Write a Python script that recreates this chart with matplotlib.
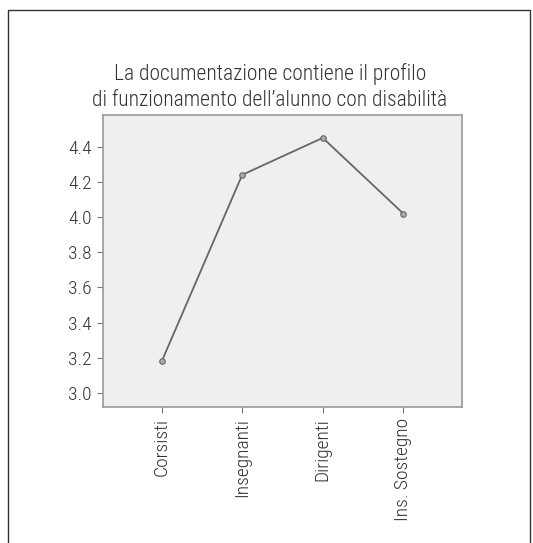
"""Line chart: documentation contains the functioning profile of the pupil."""

import matplotlib

matplotlib.use("Agg")

import matplotlib.pyplot as plt
from matplotlib.patches import Rectangle

groups = ["Corsisti", "Insegnanti", "Dirigenti", "Ins. Sostegno"]
means = [3.18, 4.24, 4.45, 4.02]
y_ticks = [3.0, 3.2, 3.4, 3.6, 3.8, 4.0, 4.2, 4.4]
title = "La documentazione contiene il profilo\ndi funzionamento dell\u2019alunno con disabilità"

plt.rcParams["font.family"] = ["Roboto Condensed", "DejaVu Sans"]
plt.rcParams["font.weight"] = "light"

W, H = 533, 543
fig = plt.figure(figsize=(W / 100, H / 100), dpi=100)

# outer frame
fig.patches.append(Rectangle((8 / W, -0.01), (522 / W), (H - 10) / H + 0.01,
                             transform=fig.transFigure, fill=False,
                             edgecolor="#333333", linewidth=1.0))

ax = fig.add_axes([103 / W, 1 - 407 / H, (462 - 103) / W, (407 - 115) / H])
ax.set_facecolor("#efefef")
x = list(range(len(groups)))
ax.plot(x, means, color="#666666", linewidth=1.3, marker="o", markersize=4,
        markerfacecolor="#aaaaaa", markeredgecolor="#666666", markeredgewidth=0.8)

ax.set_xlim(-0.73, 3.73)
ax.set_ylim(2.92, 4.58)
ax.set_yticks(y_ticks)
ax.set_yticklabels([f"{v:.1f}" for v in y_ticks])
ax.set_xticks(x)
ax.set_xticklabels(groups, rotation=90)
ax.tick_params(axis="both", direction="out", length=4, color="#777777",
               labelsize=14, labelcolor="#333333", pad=4)
for spine in ax.spines.values():
    spine.set_color("#999999")
    spine.set_linewidth(1.2)

fig.text(270 / W, 1 - 87 / H, title, ha="center", va="center",
         fontsize=15.5, color="#333333", linespacing=1.35)

fig.savefig("out.png", dpi=100)
